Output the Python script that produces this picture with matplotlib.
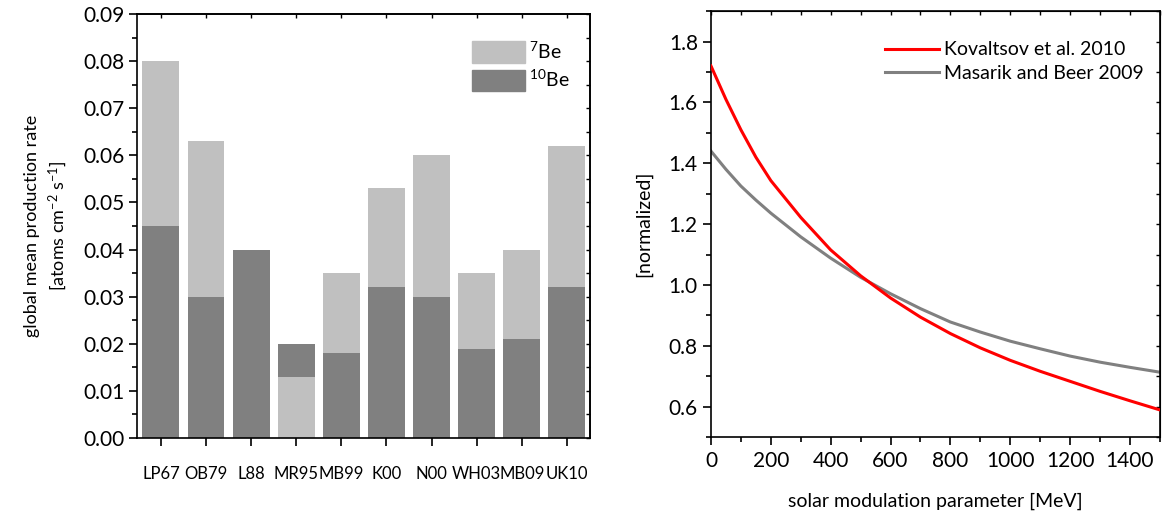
import matplotlib
matplotlib.use("Agg")
import matplotlib.pyplot as plt
import matplotlib.patches as mpatches
from matplotlib.ticker import MultipleLocator, FixedLocator, FuncFormatter
import numpy as np

plt.rcParams['font.family'] = ['Lato', 'DejaVu Sans']
plt.rcParams['mathtext.fontset'] = 'custom'
plt.rcParams['mathtext.rm'] = 'Lato'
plt.rcParams['mathtext.it'] = 'Lato'
plt.rcParams['mathtext.default'] = 'rm'

# ---- data: left panel ----
categories = ["LP67", "OB79", "L88", "MR95", "MB99", "K00", "N00", "WH03", "MB09", "UK10"]
be7 = [0.080, 0.063, 0.0, 0.013, 0.035, 0.053, 0.060, 0.035, 0.040, 0.062]
be10 = [0.045, 0.030, 0.040, 0.020, 0.018, 0.032, 0.030, 0.019, 0.021, 0.032]

# ---- data: right panel ----
phi = [0, 50, 100, 150, 200, 300, 400, 500, 600, 700, 800, 900, 1000, 1100, 1200, 1300, 1400, 1500]
kovaltsov = [1.72, 1.61, 1.51, 1.42, 1.343, 1.222, 1.115, 1.03, 0.957, 0.894, 0.840, 0.793,
             0.752, 0.716, 0.683, 0.650, 0.619, 0.589]
masarik = [1.44, 1.38, 1.325, 1.279, 1.236, 1.158, 1.088, 1.025, 0.971, 0.922, 0.878, 0.845,
           0.815, 0.790, 0.766, 0.746, 0.729, 0.713]

light = "#c0c0c0"
dark = "#808080"

fig = plt.figure(figsize=(11.64, 5.18), dpi=100)
ax1 = fig.add_axes([0.1177, 0.1544, 0.389, 0.8185])
ax2 = fig.add_axes([0.6108, 0.1564, 0.3857, 0.822])

# ---------------- left panel ----------------
x = np.arange(len(categories))
w = 0.82
b7 = ax1.bar(x, be7, width=w, color=light, linewidth=0)
b10 = ax1.bar(x, be10, width=w, color=dark, linewidth=0)
for p7, p10, v7, v10 in zip(b7.patches, b10.patches, be7, be10):
    if v7 >= v10:
        p7.set_zorder(1); p10.set_zorder(2)
    else:
        p7.set_zorder(2); p10.set_zorder(1)

ax1.set_xlim(-0.53, 9.51)
ax1.set_ylim(0, 0.09)
ax1.set_xticks(x)
ax1.set_xticklabels(categories, fontsize=12)
ax1.yaxis.set_major_locator(MultipleLocator(0.01))
ax1.yaxis.set_minor_locator(MultipleLocator(0.005))
ax1.yaxis.set_major_formatter(FuncFormatter(lambda v, p: "%.2f" % v))
ax1.tick_params(axis='y', which='major', direction='out', length=6, width=1.2, pad=3,
                labelsize=15)
ax1.tick_params(axis='y', which='minor', direction='out', length=3.5, width=1.2)
ax1.tick_params(axis='x', which='major', direction='out', length=6, width=1.2, pad=14)
for s in ax1.spines.values():
    s.set_linewidth(1.2)

sx1 = ax1.secondary_xaxis('top')
sx1.set_xticks(x)
sx1.tick_params(direction='in', length=3, width=1, labeltop=False)
sx1.spines['top'].set_linewidth(1.2)
sy1 = ax1.secondary_yaxis('right')
sy1.yaxis.set_major_locator(MultipleLocator(0.005))
sy1.tick_params(direction='in', length=3, width=1, labelright=False)
sy1.spines['right'].set_linewidth(1.2)

ax1.set_ylabel("global mean production rate\n[atoms cm$^{-2}$ s$^{-1}$]", fontsize=13,
               labelpad=10, linespacing=1.4)

h7 = mpatches.Patch(color=light, label="$^{7}$Be")
h10 = mpatches.Patch(color=dark, label="$^{10}$Be")
ax1.legend(handles=[h7, h10], loc='upper right', frameon=False, fontsize=14,
           handlelength=2.7, handleheight=1.3, handletextpad=0.2, labelspacing=0.3,
           borderaxespad=0.3, bbox_to_anchor=(0.985, 0.97))

# ---------------- right panel ----------------
ax2.plot(phi, kovaltsov, color="#ff0000", lw=2.2, label="Kovaltsov et al. 2010", zorder=3)
ax2.plot(phi, masarik, color="#808080", lw=2.2, label="Masarik and Beer 2009", zorder=2)
ax2.set_xlim(0, 1500)
ax2.set_ylim(0.5, 1.9)
ax2.xaxis.set_major_locator(MultipleLocator(200))
ax2.xaxis.set_minor_locator(MultipleLocator(100))
ax2.yaxis.set_major_locator(FixedLocator([0.6, 0.8, 1.0, 1.2, 1.4, 1.6, 1.8]))
ax2.yaxis.set_minor_locator(MultipleLocator(0.1))
ax2.yaxis.set_major_formatter(FuncFormatter(lambda v, p: "%.1f" % v))
ax2.tick_params(axis='both', which='major', direction='out', length=6, width=1.2, labelsize=15)
ax2.tick_params(axis='both', which='minor', direction='out', length=3.5, width=1.2)
ax2.tick_params(axis='x', which='major', pad=4)
for s in ax2.spines.values():
    s.set_linewidth(1.2)

sx2 = ax2.secondary_xaxis('top')
sx2.xaxis.set_major_locator(MultipleLocator(100))
sx2.tick_params(direction='in', length=3, width=1, labeltop=False)
sy2 = ax2.secondary_yaxis('right')
sy2.yaxis.set_major_locator(MultipleLocator(0.1))
sy2.tick_params(direction='in', length=3, width=1, labelright=False)

ax2.set_xlabel("solar modulation parameter [MeV]", fontsize=14, labelpad=16)
ax2.set_ylabel("[normalized]", fontsize=14, labelpad=12)
ax2.legend(loc='upper right', frameon=False, fontsize=14, handlelength=2.8,
           handletextpad=0.25, labelspacing=0.35, bbox_to_anchor=(1.003, 0.97))

fig.savefig("out.png", dpi=100)
